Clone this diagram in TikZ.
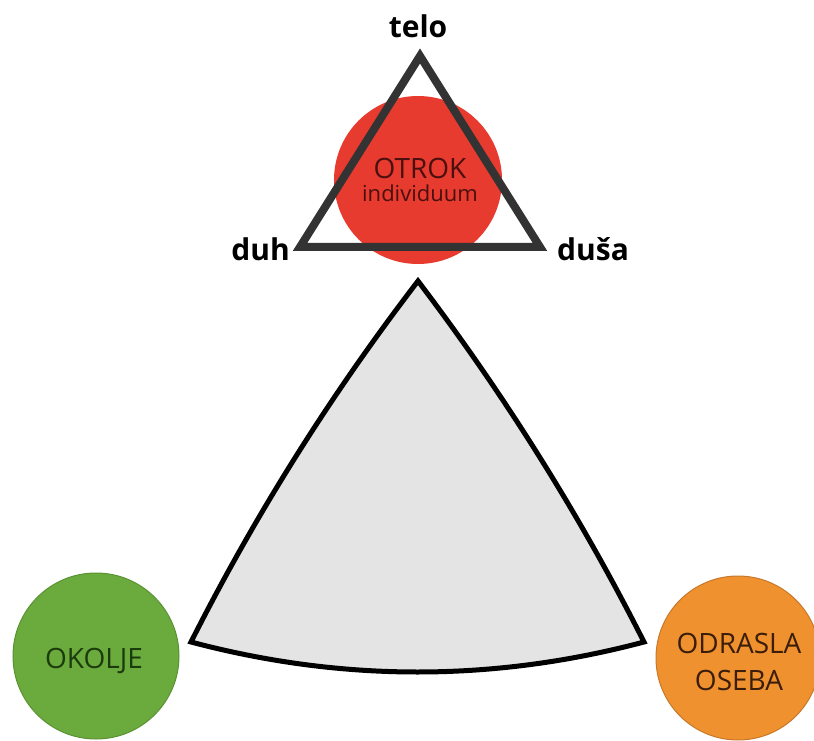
\documentclass[tikz,border=0pt]{standalone}
\usepackage{fontspec}
\setmainfont{Open Sans}
\definecolor{redc}{HTML}{E63B2E}
\definecolor{greenc}{HTML}{6BAB3E}
\definecolor{greenl}{HTML}{5A9232}
\definecolor{orangec}{HTML}{F0912F}
\definecolor{orangel}{HTML}{C8782A}
\definecolor{greyf}{HTML}{E4E4E4}
\definecolor{tri}{HTML}{333333}
\definecolor{redt}{HTML}{4A1010}
\definecolor{greent}{HTML}{1C3B0C}
\definecolor{oranget}{HTML}{3A1E0A}
\tikzset{
  ball/.style={circle,inner sep=0pt,minimum size=#1},
  lbl/.style={font=\bfseries\fontsize{30}{32}\selectfont,anchor=base,inner sep=0pt,text=black},
  txt/.style={font=\fontsize{28}{30}\selectfont,anchor=base,inner sep=0pt},
}
\begin{document}
\begin{tikzpicture}[x=1pt,y=1pt]
\fill[white] (0,0) rectangle (814,740);
\useasboundingbox (0,0) rectangle (814,740);
% curved triangle
\coordinate (T) at (418,459);
\coordinate (BL) at (191,98);
\coordinate (BR) at (644,98);
\filldraw[fill=greyf,draw=black,line width=5pt,line join=miter]
  (T) .. controls (331.1,345.8) and (255.4,225.5) .. (BL)
  .. controls (342,58) and (493,58) .. (BR)
  .. controls (579.6,225.5) and (503.9,345.8) .. (T) -- cycle;
% red circle and triangle
\node[ball=168pt,fill=redc] (otrok) at (418,560) {};
\coordinate (A) at (420,684);
\coordinate (L) at (300,493);
\coordinate (R) at (540,493);
\draw[tri,line width=8pt,line join=miter] (A) -- (L) -- (R) -- cycle;
\node[txt,text=redt] (t1) at (420,561) {OTROK};
\node[txt,text=redt,font=\fontsize{22}{24}\selectfont] (t2) at (420,538) {individuum};
\node[lbl] (telo) at (418,702) {telo};
\node[lbl,anchor=base east] (duh) at (290,479) {duh};
\node[lbl,anchor=base west] (dusa) at (557,479) {duša};
% green circle
\node[ball=166pt,fill=greenc,draw=greenl,line width=1pt] (okolje) at (96,84) {};
\node[txt,text=greent] (t3) at (94,72) {OKOLJE};
% orange circle
\node[ball=164pt,fill=orangec,draw=orangel,line width=1pt] (odrasla) at (738,82) {};
\node[txt,text=oranget] (t4) at (739,87) {ODRASLA};
\node[txt,text=oranget] (t5) at (739,50) {OSEBA};
\end{tikzpicture}
\end{document}
